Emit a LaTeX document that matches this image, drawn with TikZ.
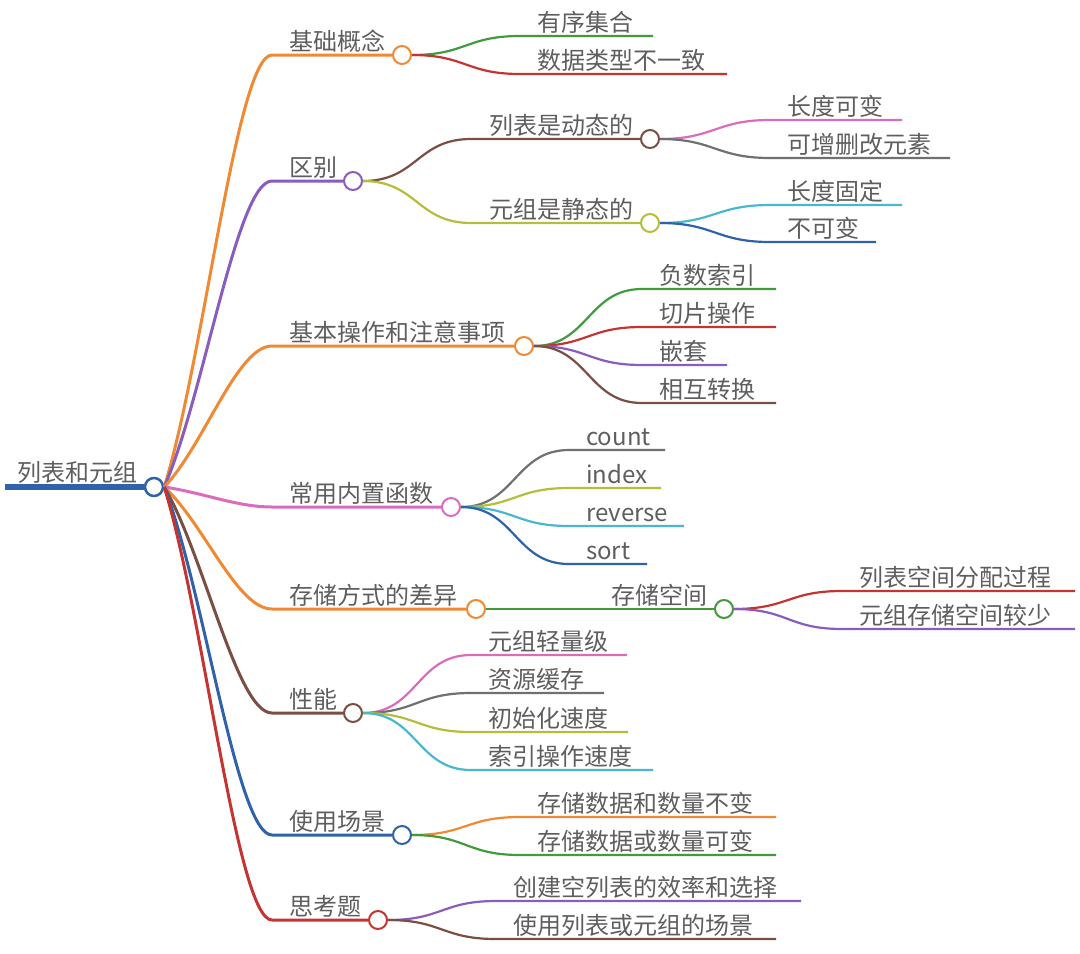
\documentclass[tikz,border=0pt]{standalone}
\usepackage{fontspec}
\newfontfamily\cjk{Noto Sans CJK SC}
\usepackage{tikz}
\usetikzlibrary{positioning}
\definecolor{mmorange}{HTML}{F08934}
\definecolor{mmpurple}{HTML}{895CBE}
\definecolor{mmpink}{HTML}{DA6CBE}
\definecolor{mmbrown}{HTML}{7A4E42}
\definecolor{mmblue}{HTML}{2F62A8}
\definecolor{mmred}{HTML}{C43430}
\definecolor{mmgreen}{HTML}{419B3C}
\definecolor{mmgray}{HTML}{707070}
\definecolor{mmolive}{HTML}{B5BE3A}
\definecolor{mmcyan}{HTML}{49B8CC}
\definecolor{txtgray}{HTML}{5E5E5E}
\begin{document}
\begin{tikzpicture}[x=1pt,y=-1pt,
    dot/.style={circle,draw=#1,fill=white,line width=2pt,inner sep=0pt,minimum size=18pt},
    lbl/.style={font=\cjk\fontsize{24}{24}\selectfont,text=txtgray,inner sep=0pt,anchor=base west},
    trunk/.style={line width=3pt},
    twig/.style={line width=2.2pt}]
  \useasboundingbox (0,0) rectangle (1080,954);
  % root
  \node[dot=mmblue,line width=2.5pt] (root) at (154,487) {};
  \coordinate (root-tail) at (5,487);
  \draw[line width=6pt,draw=mmblue] (root-tail) -- (root.west);
  \node[lbl] (root-t) at (17,481) {列表和元组};
  % main branches
  \foreach \n/\y/\cx/\col/\t/\cy in {jc/55/402/mmorange/基础概念/-130,
      qb/181/353/mmpurple/区别/-92,
      cz/346/524/mmorange/基本操作和注意事项/-42,
      hs/507/451/mmpink/常用内置函数/6,
      cc/609/476/mmorange/存储方式的差异/37,
      xn/713/353/mmbrown/性能/68,
      cj/835/402/mmblue/使用场景/104,
      sk/920/378/mmred/思考题/130}{
    \node[dot=\col] (\n) at (\cx,\y) {};
    \coordinate (\n-in) at (272,\y);
    \draw[trunk,draw=\col] (root.east) .. controls +(40,\cy) and +(-35,0) .. (\n-in) -- (\n.west);
    \node[lbl] (\n-t) at (289,\y-5) {\t};
  }
  % second level with children
  \node[dot=mmbrown] (lb) at (650,139) {};
  \coordinate (lb-in) at (471,139);
  \draw[twig,draw=mmbrown] (qb.east) .. controls +(54,0) and +(-54,0) .. (lb-in) -- (lb.west);
  \node[lbl] (lb-t) at (489,134) {列表是动态的};
  \node[dot=mmolive] (yz) at (650,223) {};
  \coordinate (yz-in) at (471,223);
  \draw[twig,draw=mmolive] (qb.east) .. controls +(54,0) and +(-54,0) .. (yz-in) -- (yz.west);
  \node[lbl] (yz-t) at (489,218) {元组是静态的};
  \node[dot=mmgreen] (kj) at (724,609) {};
  \coordinate (kj-in) at (594,609);
  \draw[twig,draw=mmgreen] (cc.east) .. controls +(54,0) and +(-54,0) .. (kj-in) -- (kj.west);
  \node[lbl] (kj-t) at (611,604) {存储空间};
  % leaves
  \foreach \p/\x/\y/\e/\col/\t [count=\i] in {jc/520/36/653/mmgreen/有序集合,
      jc/520/74/727/mmred/数据类型不一致,
      lb/770/120/902/mmpink/长度可变,
      lb/770/158/950/mmgray/可增删改元素,
      yz/770/205/902/mmcyan/长度固定,
      yz/770/242/876/mmblue/不可变,
      cz/642/289/776/mmgreen/负数索引,
      cz/642/327/776/mmred/切片操作,
      cz/642/365/727/mmpurple/嵌套,
      cz/642/403/776/mmbrown/相互转换,
      hs/569/450/665/mmgray/count,
      hs/569/488/661/mmolive/index,
      hs/569/526/684/mmcyan/reverse,
      hs/569/564/647/mmblue/sort,
      kj/842/591/1075/mmred/列表空间分配过程,
      kj/842/629/1075/mmpurple/元组存储空间较少,
      xn/471/655/627/mmpink/元组轻量级,
      xn/471/693/604/mmgray/资源缓存,
      xn/471/732/628/mmolive/初始化速度,
      xn/471/770/653/mmcyan/索引操作速度,
      cj/520/817/776/mmorange/存储数据和数量不变,
      cj/520/855/776/mmgreen/存储数据或数量可变,
      sk/496/901/801/mmpurple/创建空列表的效率和选择,
      sk/496/939/776/mmbrown/使用列表或元组的场景}{
    \coordinate (leaf-in\i) at (\x,\y);
    \coordinate (leaf-end\i) at (\e,\y);
    \draw[twig,draw=\col] (\p.east) .. controls +(54,0) and +(-54,0) .. (leaf-in\i) -- (leaf-end\i);
    \node[lbl] (leaf-t\i) at (\x+17,\y-5) {\t};
  }
\end{tikzpicture}
\end{document}
